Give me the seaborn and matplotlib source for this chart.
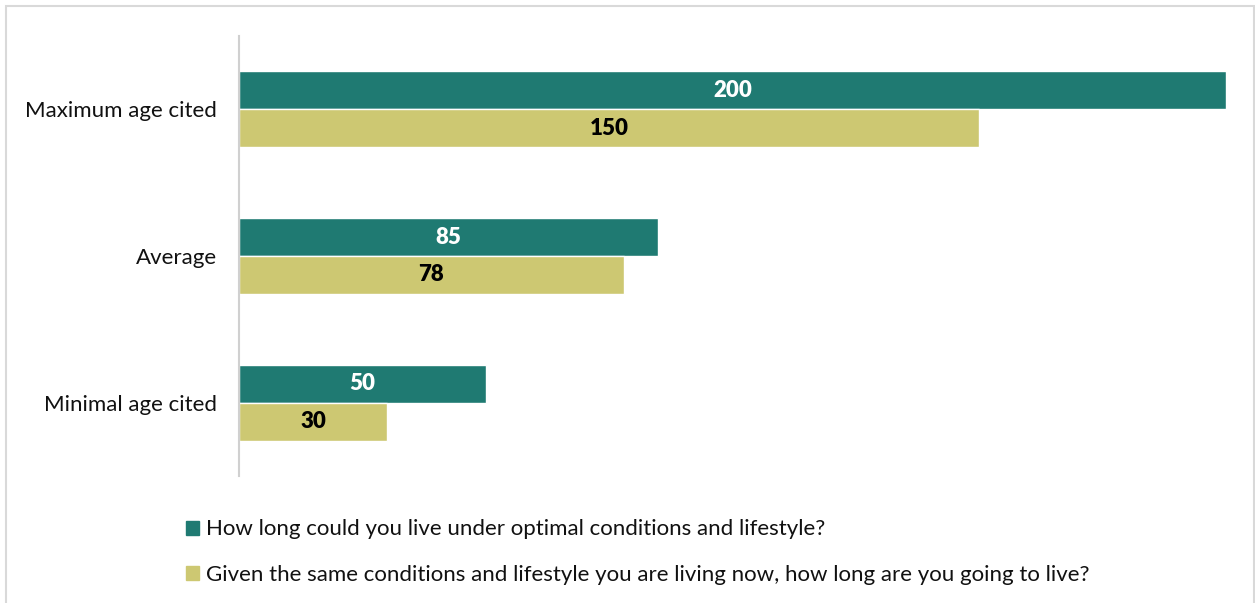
import pandas as pd
import seaborn as sns
import matplotlib.pyplot as plt
from matplotlib.patches import Rectangle

sns.set_theme(style="white")
plt.rcParams['font.family'] = ['Lato', 'DejaVu Sans']

# data
categories = ["Maximum age cited", "Average", "Minimal age cited"]
series_names = [
    "How long could you live under optimal conditions and lifestyle?",
    "Given the same conditions and lifestyle you are living now, how long are you going to live?",
]
optimal = [200, 85, 50]
current = [150, 78, 30]
colors = ["#1F7A72", "#CDC872"]
label_colors = ["white", "black"]

df = pd.DataFrame({
    "Category": categories * 2,
    "Series": [series_names[0]] * 3 + [series_names[1]] * 3,
    "Age": optimal + current,
})

fig = plt.figure(figsize=(12.55, 6.03), dpi=100)
ax = fig.add_axes([0.1904, 0.2106, 0.7865, 0.7297])

sns.barplot(data=df, x="Age", y="Category", hue="Series", palette=colors,
            order=categories, hue_order=series_names, width=0.518,
            saturation=1, orient="h", ax=ax, legend=False)

ax.set_xlim(0, 200)
ax.set_ylim(2.5, -0.5)
ax.set_xlabel("")
ax.set_ylabel("")
ax.set_xticks([])
ax.tick_params(axis="y", length=0, labelsize=16, pad=16, colors="#111111")
for side in ["top", "right", "bottom"]:
    ax.spines[side].set_visible(False)
ax.spines["left"].set_color("#D0D0D0")
ax.spines["left"].set_linewidth(1.5)

# value labels
for cont, lc in zip(ax.containers, label_colors):
    ax.bar_label(cont, label_type="center", color=lc, fontsize=16, fontweight="heavy")

# legend
handles = [Rectangle((0, 0), 1, 1, color=c) for c in colors]
fig.legend(handles, series_names, loc="upper left", bbox_to_anchor=(0.139, 0.157),
           frameon=False, fontsize=16, handlelength=0.6, handleheight=0.6,
           handletextpad=0.3, labelspacing=1.15, borderpad=0, labelcolor="#111111")

# outer frame
fig.patches.append(Rectangle((0.005, -0.01), 0.994, 1.0, transform=fig.transFigure,
                             fill=False, edgecolor="#D9D9D9", linewidth=1.5))

fig.savefig("out.png", dpi=100)
